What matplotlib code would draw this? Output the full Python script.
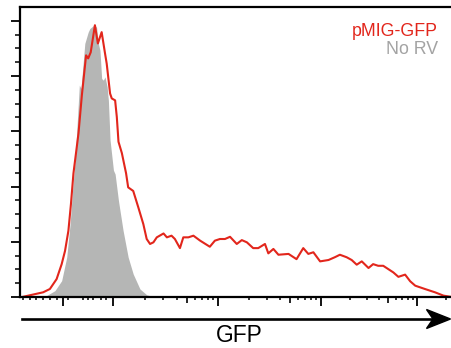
"""GFP histogram overlay: pMIG-GFP transduced cells versus no-RV control."""

import matplotlib

matplotlib.use("Agg")
import matplotlib.pyplot as plt
from matplotlib.patches import Polygon
import numpy as np

# Histograms are binned on the display channel of the biexponential axis
# (0-1024), counts are normalised to the mode (% of max).
red_channel = [
    8, 55, 71, 87, 99, 107, 115, 121, 127, 139, 147, 157, 162, 168, 178,
    185, 194, 202, 206, 214, 218, 226, 230, 234, 242, 252, 257, 269, 281,
    293, 301, 309, 317, 325, 341, 349, 360, 368, 380, 388, 400, 412, 428,
    451, 463, 475, 487, 499, 515, 527, 539, 554, 566, 582, 590, 602, 614,
    638, 657, 673, 685, 697, 713, 733, 748, 760, 776, 788, 800, 812, 828,
    839, 851, 863, 875, 887, 899, 915, 927, 939, 962, 986, 1006, 1022,
]
red_percent = [
    0.1, 1.7, 2.9, 6.5, 11.9, 16.7, 24.0, 33.6, 44.8, 59.3, 73.1, 87.5,
    86.4, 88.6, 98.4, 91.8, 95.9, 88.2, 84.5, 73.7, 71.9, 71.2, 65.2, 56.2,
    52.1, 44.8, 39.7, 38.4, 32.5, 26.4, 21.0, 19.2, 19.8, 21.6, 23.0, 21.6,
    22.2, 21.0, 17.7, 21.6, 21.6, 22.2, 20.4, 18.2, 20.4, 21.0, 21.0, 21.8,
    19.2, 20.6, 19.8, 17.7, 17.7, 19.2, 15.8, 17.4, 15.3, 15.6, 13.7, 17.7,
    15.6, 16.2, 12.9, 13.4, 14.4, 15.3, 14.4, 13.4, 11.7, 12.9, 10.5, 11.9,
    11.3, 11.3, 10.1, 8.9, 7.3, 8.1, 5.7, 4.1, 2.9, 1.7, 0.5, 0.1,
]
gray_channel = [
    43, 63, 83, 99, 111, 119, 125, 131, 141, 145, 154, 162, 166, 177, 182,
    186, 190, 194, 198, 202, 207, 210, 214, 222, 226, 234, 245, 257, 269,
    285, 301, 317, 333,
]
gray_percent = [
    0.0, 0.5, 2.3, 5.9, 14.4, 26.4, 38.7, 49.5, 76.7, 75.5, 91.8, 95.9,
    97.2, 98.6, 97.6, 91.8, 89.3, 79.1, 78.5, 79.7, 76.1, 71.2, 56.8, 45.9,
    44.5, 34.8, 24.0, 14.4, 8.3, 2.9, 0.8, 0.1, 0.0,
]
series_names = ["pMIG-GFP", "No RV"]

# Axis ticks in GFP fluorescence units
major_gfp = [0, 1e2, 1e3, 1e4, 1e5]
medium_gfp = [5e2, 5e3, 5e4]
minor_gfp = [-60, -50, -40, -30, -20, -10, 10, 40, 50, 60, 75, 85] + [
    m * 10.0 ** e for e in (2, 3, 4) for m in (2, 3, 4, 6, 7, 8, 9)
] + [2e5]

# Biexponential axis layout: channel of zero and of each labelled decade
ZERO_CHANNEL = 103
NEGATIVE_SLOPE = 1.6
DECADE_EXPONENT = [2, 3, 4, 5]
DECADE_CHANNEL = [222, 471, 715, 943]

RED = "#e2261c"
GRAY_FILL = "#b5b6b5"
GRAY_TEXT = "#a3a3a3"
W, H = 451, 348


def gfp_to_channel(values):
    """Map GFP fluorescence values to display channels."""
    v = np.asarray(values, dtype=float)
    out = np.empty_like(v)
    neg = v < 0
    lin = (v >= 0) & (v < 100)
    log = v >= 100
    out[neg] = ZERO_CHANNEL + NEGATIVE_SLOPE * v[neg]
    out[lin] = ZERO_CHANNEL + (DECADE_CHANNEL[0] - ZERO_CHANNEL) * v[lin] / 100
    exps = np.log10(v[log])
    slope = DECADE_CHANNEL[-1] - DECADE_CHANNEL[-2]
    out[log] = np.where(
        exps > DECADE_EXPONENT[-1],
        DECADE_CHANNEL[-1] + slope * (exps - DECADE_EXPONENT[-1]),
        np.interp(exps, DECADE_EXPONENT, DECADE_CHANNEL),
    )
    return out


plt.rcParams["font.family"] = ["Liberation Sans", "DejaVu Sans"]

fig = plt.figure(figsize=(W / 100, H / 100), dpi=100)
ax = fig.add_axes([20 / W, (H - 297) / H, (W - 20) / W, 290 / H])

ax.fill_between(gray_channel, gray_percent, 0, color=GRAY_FILL, linewidth=0,
                zorder=1)
ax.plot(red_channel, red_percent, color=RED, linewidth=1.5, zorder=2)

ax.set_xlim(0, 1024)
ax.set_ylim(0, 105)

ax.spines["right"].set_visible(False)
for side in ("left", "top", "bottom"):
    ax.spines[side].set_linewidth(1.6)

ax.set_xticks(gfp_to_channel(major_gfp))
ax.set_xticks(gfp_to_channel(minor_gfp), minor=True)
ax.set_yticks(np.arange(0, 101, 20))
ax.set_yticks(np.arange(0, 101, 5), minor=True)
ax.tick_params(which="major", length=6.5, width=1.3, labelbottom=False,
               labelleft=False)
ax.tick_params(which="minor", length=2.5, width=1.1)
ax.tick_params(axis="y", which="minor", length=3.5)

sec = ax.secondary_xaxis("bottom")
sec.set_xticks(gfp_to_channel(medium_gfp))
sec.tick_params(length=4.5, width=1.2, labelbottom=False)
sec.spines["bottom"].set_visible(False)

ax.text(0.97, 0.9, series_names[0], color=RED, fontsize=12.8, ha="right",
        va="baseline", transform=ax.transAxes)
ax.text(0.97, 0.837, series_names[1], color=GRAY_TEXT, fontsize=12.8,
        ha="right", va="baseline", transform=ax.transAxes)

# Axis arrow under the plot
arrow_y = (H - 319) / H
fig.add_artist(plt.Line2D([21.5 / W, 432 / W], [arrow_y, arrow_y],
                          color="black", linewidth=1.9,
                          transform=fig.transFigure))
head = [(450.5, 319), (426.5, 309.5), (433, 319), (426.5, 328.5)]
fig.add_artist(Polygon([(x / W, (H - y) / H) for x, y in head],
                       closed=True, color="black",
                       transform=fig.transFigure))
fig.text(239 / W, (H - 342) / H, "GFP", fontsize=16.4, ha="center",
         va="baseline")

fig.savefig("out.png", dpi=100)
